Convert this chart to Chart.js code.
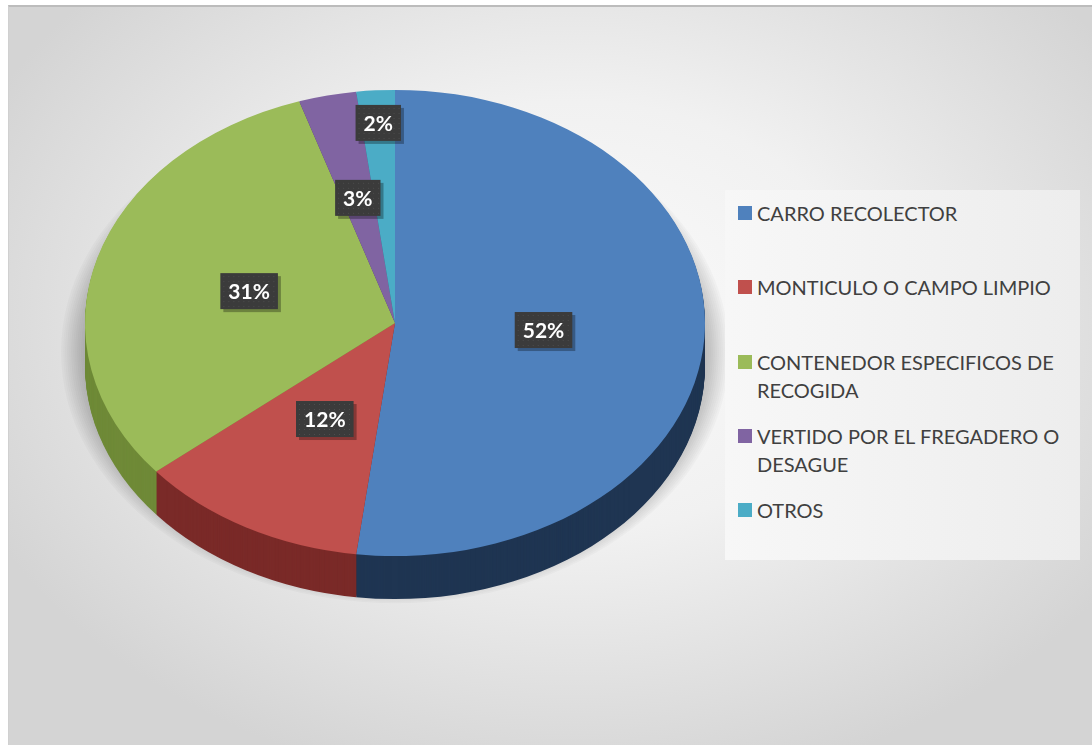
<!DOCTYPE html>
<html>
<head>
<meta charset="utf-8">
<script src="https://cdn.jsdelivr.net/npm/chart.js@4"></script>
<style>
  html, body { margin: 0; padding: 0; background: #fff; }
  #card {
    position: absolute; left: 8px; top: 5px; width: 1084px; height: 740px;
    box-sizing: border-box; border-top: 2px solid #bcbcbc; border-left: 1px solid #d0d0d0;
    background: radial-gradient(ellipse 60% 65% at 52% 42%, #fbfbfb 0%, #f1f1f1 45%, #d4d4d4 100%);
  }
  #wrap { position: absolute; left: 0; top: 0; width: 790px; height: 745px; }
  #legend {
    position: absolute; left: 725px; top: 190px; width: 355px; height: 370px;
    background: linear-gradient(to right, #f7f7f7, #ededed);
    font-family: Lato, "Open Sans", sans-serif; font-size: 20px; color: #404040;
  }
  .item { position: absolute; left: 13px; line-height: 28px; white-space: nowrap; }
  .sw { position: absolute; left: 0; top: 7px; width: 14px; height: 14px; }
  .txt { position: absolute; left: 19px; top: 0; }
</style>
</head>
<body>
<div id="card"></div>
<div id="wrap"><canvas id="pie"></canvas></div>
<div id="legend"></div>
<script>
const categories = [
  ['CARRO RECOLECTOR'],
  ['MONTICULO O CAMPO LIMPIO'],
  ['CONTENEDOR ESPECIFICOS DE', 'RECOGIDA'],
  ['VERTIDO POR EL FREGADERO O', 'DESAGUE'],
  ['OTROS']
];
const shares = [52, 12, 31, 3, 2];

const topColors = ['#4f81bd', '#c0504d', '#9bbb59', '#8064a2', '#4bacc6'];
const sideColors = ['#1f3552', '#7a2a28', '#6f8a38', '#4d3a66', '#2c7488'];
const labelRadius = [0.48, 0.47, 0.49, 0.55, 0.86];

const TILT = 0.752;   // vertical squash of the top face
const FACE_Y = 323;   // screen y of the top face centre
const DEPTH = 43;     // thickness of the pie

function tilt(ctx, cx, cy) {
  ctx.translate(cx, FACE_Y);
  ctx.scale(1, TILT);
  ctx.translate(-cx, -cy);
}

function slicePath(ctx, arc) {
  ctx.beginPath();
  ctx.moveTo(arc.x, arc.y);
  ctx.arc(arc.x, arc.y, arc.outerRadius, arc.startAngle, arc.endAngle);
  ctx.closePath();
}

const pie3d = {
  id: 'pie3d',
  beforeDatasetsDraw(chart) {
    const ctx = chart.ctx;
    const arcs = chart.getDatasetMeta(0).data;
    const cx = arcs[0].x, cy = arcs[0].y, r = arcs[0].outerRadius;

    // soft halo under the pie, built from stacked faint discs
    ctx.save();
    ctx.translate(0, DEPTH - 14);
    tilt(ctx, cx, cy);
    ctx.fillStyle = 'rgba(0,0,0,0.022)';
    for (let k = 0; k < 14; k++) {
      ctx.beginPath();
      ctx.arc(cx, cy, r + 24 - k * 2, 0, Math.PI * 2);
      ctx.fill();
    }
    ctx.restore();

    for (let d = DEPTH; d >= 1; d--) {
      ctx.save();
      ctx.translate(0, d);
      tilt(ctx, cx, cy);
      arcs.forEach((arc, i) => {
        slicePath(ctx, arc);
        ctx.fillStyle = sideColors[i];
        ctx.fill();
      });
      ctx.restore();
    }
    ctx.save();
    tilt(ctx, cx, cy);
  },
  afterDatasetsDraw(chart) {
    const ctx = chart.ctx;
    ctx.restore();
    const arcs = chart.getDatasetMeta(0).data;
    const total = shares.reduce((a, b) => a + b, 0);
    ctx.save();
    ctx.font = 'bold 21px Lato, "Open Sans", sans-serif';
    ctx.textAlign = 'center';
    ctx.textBaseline = 'middle';
    arcs.forEach((arc, i) => {
      const mid = (arc.startAngle + arc.endAngle) / 2;
      const rr = arc.outerRadius * labelRadius[i];
      const x = arc.x + Math.cos(mid) * rr;
      const y = FACE_Y + Math.sin(mid) * rr * TILT;
      const text = Math.round(shares[i] / total * 100) + '%';
      const w = ctx.measureText(text).width + 16, h = 36;
      ctx.fillStyle = 'rgba(0,0,0,0.3)';
      ctx.fillRect(x - w / 2 + 3, y - h / 2 + 3, w, h);
      ctx.fillStyle = '#3b3b3b';
      ctx.fillRect(x - w / 2, y - h / 2, w, h);
      ctx.fillStyle = 'rgba(90,90,90,0.6)';
      for (let dx = 3; dx < w; dx += 5) {
        for (let dy = 3; dy < h; dy += 5) ctx.fillRect(x - w / 2 + dx, y - h / 2 + dy, 1, 1);
      }
      ctx.fillStyle = '#ffffff';
      ctx.fillText(text, x, y + 1);
    });
    ctx.restore();
  }
};

new Chart(document.getElementById('pie').getContext('2d'), {
  type: 'pie',
  data: {
    labels: categories,
    datasets: [{
      data: shares,
      backgroundColor: topColors,
      borderWidth: 0
    }]
  },
  options: {
    responsive: true,
    maintainAspectRatio: false,
    animation: false,
    layout: { padding: { left: 85, right: 85, top: 62, bottom: 63 } },
    plugins: {
      legend: { display: false },
      tooltip: { enabled: false }
    }
  },
  plugins: [pie3d]
});

const legend = document.getElementById('legend');
categories.forEach((lines, i) => {
  const item = document.createElement('div');
  item.className = 'item';
  item.style.top = (9 + i * 74.25) + 'px';
  const sw = document.createElement('span');
  sw.className = 'sw';
  sw.style.background = topColors[i];
  const txt = document.createElement('span');
  txt.className = 'txt';
  txt.innerHTML = lines.join('<br>');
  item.appendChild(sw);
  item.appendChild(txt);
  legend.appendChild(item);
});
</script>
</body>
</html>
